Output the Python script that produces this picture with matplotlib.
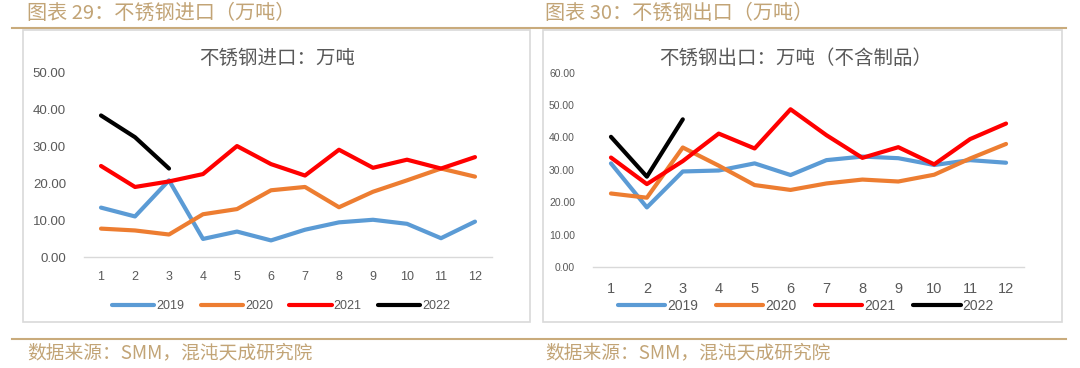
import matplotlib
matplotlib.use("Agg")
import matplotlib.pyplot as plt
from matplotlib.patches import Rectangle
from matplotlib.lines import Line2D

plt.rcParams['font.family'] = ['Noto Sans CJK SC', 'DejaVu Sans']

# ---- data ----
months = [1, 2, 3, 4, 5, 6, 7, 8, 9, 10, 11, 12]
years = ['2019', '2020', '2021', '2022']

imp_2019 = [13.4, 11.0, 20.8, 4.9, 6.9, 4.5, 7.4, 9.4, 10.1, 9.0, 5.1, 9.6]
imp_2020 = [7.7, 7.2, 6.1, 11.6, 13.0, 18.1, 19.0, 13.5, 17.7, 20.8, 24.0, 21.8]
imp_2021 = [24.7, 19.0, 20.5, 22.5, 30.1, 25.2, 22.1, 29.1, 24.2, 26.4, 24.0, 27.1]
imp_2022 = [38.4, 32.5, 24.0]

exp_2019 = [32.0, 18.4, 29.5, 29.8, 32.0, 28.4, 33.0, 34.1, 33.6, 31.5, 33.0, 32.2]
exp_2020 = [22.7, 21.4, 36.9, 31.3, 25.3, 23.8, 25.8, 27.0, 26.4, 28.5, 33.5, 38.0]
exp_2021 = [33.8, 25.6, 32.7, 41.2, 36.6, 48.7, 40.7, 33.7, 37.0, 31.7, 39.5, 44.3]
exp_2022 = [40.2, 27.9, 45.6]

colors = ['#5B9BD5', '#ED7D31', '#FF0000', '#000000']
gold = '#C2A476'
grey_txt = '#595959'

W, H = 1080, 368
fig = plt.figure(figsize=(W / 100, H / 100), dpi=100)


def px_axes(x0, y0, x1, y1):
    # pixel box (top-left origin) -> figure axes
    return fig.add_axes([x0 / W, 1 - y1 / H, (x1 - x0) / W, (y1 - y0) / H])


def fx(x):
    return x / W


def fy(y):
    return 1 - y / H


# frames, header / footer rules
for bx0, bx1 in [(23, 530), (543, 1062)]:
    fig.patches.append(Rectangle((fx(bx0), fy(322)), fx(bx1 - bx0), (322 - 30) / H,
                                 transform=fig.transFigure, fill=False,
                                 edgecolor='#D9D9D9', linewidth=1.2))
fig.lines.append(Line2D([fx(12), fx(1066)], [fy(28), fy(28)], transform=fig.transFigure,
                        color='#C9AB7C', linewidth=1.5))
fig.lines.append(Line2D([fx(12), fx(1066)], [fy(339), fy(339)], transform=fig.transFigure,
                        color='#C9AB7C', linewidth=1.5))

fig.text(fx(27), fy(13), '图表 29：不锈钢进口（万吨）', color=gold, fontsize=14.5, va='center')
fig.text(fx(545), fy(13), '图表 30：不锈钢出口（万吨）', color=gold, fontsize=14.5, va='center')
fig.text(fx(27), fy(353), '数据来源：SMM，混沌天成研究院', color=gold, fontsize=13.5, va='center')
fig.text(fx(545), fy(353), '数据来源：SMM，混沌天成研究院', color=gold, fontsize=13.5, va='center')


def draw(ax, series, ymax, ytick_fs, xtick_fs):
    for vals, c, lab in zip(series, colors, years):
        ax.plot(months[:len(vals)], vals, color=c, linewidth=3.0, label=lab,
                solid_capstyle='round', solid_joinstyle='round')
    ax.set_xlim(0.5, 12.5)
    ax.set_ylim(0, ymax)
    ax.set_xticks(months)
    ax.set_yticks(range(0, ymax + 1, 10))
    ax.set_yticklabels(['%.2f' % v for v in range(0, ymax + 1, 10)])
    for s in ['top', 'right', 'left']:
        ax.spines[s].set_visible(False)
    ax.spines['bottom'].set_color('#D9D9D9')
    ax.spines['bottom'].set_linewidth(1.0)
    ax.tick_params(axis='both', length=0, colors=grey_txt)
    ax.tick_params(axis='y', labelsize=ytick_fs, pad=13)
    ax.tick_params(axis='x', labelsize=xtick_fs, pad=10)
    for t in ax.get_xticklabels() + ax.get_yticklabels():
        t.set_fontfamily(['Liberation Sans', 'DejaVu Sans'])
    ax.patch.set_alpha(0)


ax1 = px_axes(84, 72.7, 492, 257)
draw(ax1, [imp_2019, imp_2020, imp_2021, imp_2022], 50, 9.5, 9)
fig.text(fx(277), fy(58), '不锈钢进口：万吨', color=grey_txt, fontsize=14,
         ha='center', va='center')

ax2 = px_axes(593, 72.7, 1024, 267)
draw(ax2, [exp_2019, exp_2020, exp_2021, exp_2022], 60, 7.5, 10.5)
ax2.tick_params(axis='x', pad=11)
fig.text(fx(796), fy(58), '不锈钢出口：万吨（不含制品）', color=grey_txt, fontsize=14,
         ha='center', va='center')

for ax, cx, fs in [(ax1, 281, 9), (ax2, 806, 10)]:
    leg = fig.legend(*ax.get_legend_handles_labels(), loc='center',
                     bbox_to_anchor=(fx(cx), fy(306)), ncol=4, frameon=False,
                     handlelength=3.4, handletextpad=0.15,
                     columnspacing=1.3, prop={'family': ['Liberation Sans'], 'size': fs})
    for t in leg.get_texts():
        t.set_color(grey_txt)

fig.savefig('out.png', dpi=100)
